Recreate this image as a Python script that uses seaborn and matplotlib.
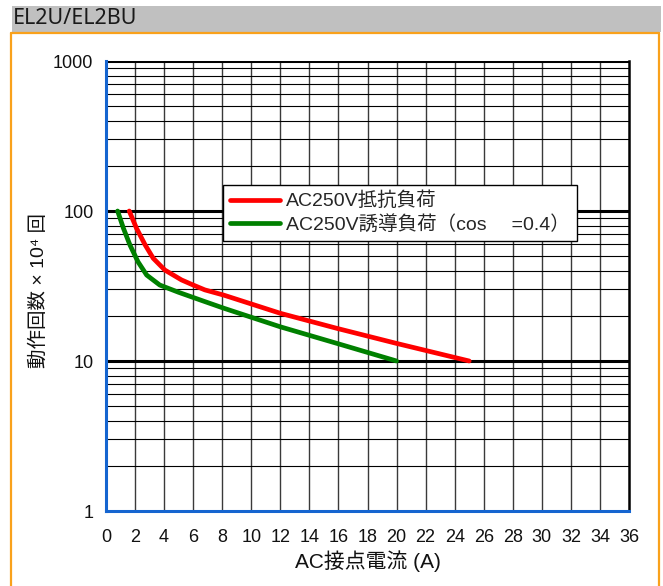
import matplotlib
matplotlib.use("Agg")
import matplotlib.pyplot as plt
from matplotlib.patches import Rectangle
from matplotlib.lines import Line2D
from matplotlib.ticker import FixedLocator, NullFormatter, NullLocator
import pandas as pd
import seaborn as sns

# Curve data: load current (A) vs. operations (x10^4)
resistive_current = [1.6, 2.1, 2.7, 3.25, 4.05, 5.2, 6.0, 6.8, 8.1, 12.0, 15.9, 20.0, 25.0]
resistive_ops = [100, 76.7, 59.3, 48.4, 40.4, 34.7, 32.1, 29.8, 27.5, 20.8, 16.5, 13.1, 10]
inductive_current = [0.8, 1.2, 1.65, 2.2, 2.8, 3.7, 5.0, 6.8, 8.1, 12.0, 15.9, 20.0]
inductive_ops = [100, 76.7, 59.3, 45.9, 37.4, 32.1, 28.7, 24.9, 22.5, 16.9, 13.1, 10]

series_names = ["AC250V抵抗負荷", "AC250V誘導負荷（cos　 =0.4）"]
x_ticks = list(range(0, 37, 2))
y_ticks = [1, 10, 100, 1000]
title = "EL2U/EL2BU"
x_label = "AC接点電流 (A)"
y_label = "動作回数 × 10⁴ 回"

sns.set_theme(style="white")
plt.rcParams["font.family"] = ["Liberation Sans", "Noto Sans CJK JP", "DejaVu Sans"]

df = pd.DataFrame({
    "current": resistive_current + inductive_current,
    "ops": resistive_ops + inductive_ops,
    "series": [series_names[0]] * len(resistive_current)
              + [series_names[1]] * len(inductive_current),
})

fig = plt.figure(figsize=(6.63, 5.86), dpi=100)
W, H = 663, 586
ax = fig.add_axes([106 / W, 1 - 511 / H, (629 - 106) / W, (511 - 61) / H])

# Header bar and orange frame
fig.add_artist(Rectangle((12 / W, 1 - 32 / H), 649 / W, 26 / H,
                         transform=fig.transFigure, facecolor="#c0c0c0",
                         edgecolor="none", zorder=0))
fig.text(13 / W, 1 - 19 / H, title, fontsize=15.5, color="#1a1a1a",
         va="center", ha="left", family=["Noto Sans", "DejaVu Sans"])
frame_c = "#f9a11b"
fig.add_artist(Line2D([11 / W, 659 / W], [1 - 33 / H, 1 - 33 / H],
                      transform=fig.transFigure, color=frame_c, lw=1.6))
fig.add_artist(Line2D([11 / W, 11 / W], [0, 1 - 33 / H],
                      transform=fig.transFigure, color=frame_c, lw=1.6))
fig.add_artist(Line2D([659 / W, 659 / W], [0, 1 - 33 / H],
                      transform=fig.transFigure, color=frame_c, lw=1.6))

ax.set_yscale("log")
ax.set_xlim(0, 36)
ax.set_ylim(1, 1000)

# Grid: vertical every 2 A, horizontal minor 2..9 per decade, heavy decades
for xv in x_ticks[1:-1]:
    ax.axvline(xv, color="#3a3a3a", lw=1.0, zorder=1)
for dec in [1, 10, 100]:
    for m in range(2, 10):
        ax.axhline(dec * m, color="black", lw=0.8, zorder=1)
for yv in [10, 100, 1000]:
    ax.axhline(yv, color="black", lw=2.2, zorder=1)

sns.lineplot(data=df, x="current", y="ops", hue="series", sort=False,
             estimator=None, palette={series_names[0]: "#ff0000",
                                      series_names[1]: "#008000"},
             lw=3.4, ax=ax, zorder=3)
for ln in ax.get_lines():
    ln.set_solid_capstyle("round")
    ln.set_solid_joinstyle("round")

ax.xaxis.set_major_locator(FixedLocator(x_ticks))
ax.yaxis.set_major_locator(FixedLocator(y_ticks))
ax.yaxis.set_minor_locator(NullLocator())
ax.yaxis.set_minor_formatter(NullFormatter())
ax.set_xticklabels([str(v) for v in x_ticks])
ax.set_yticklabels([str(v) for v in y_ticks])

blue = "#1565d0"
for side in ["left", "bottom"]:
    ax.spines[side].set_color(blue)
    ax.spines[side].set_linewidth(2.2)
ax.spines["right"].set_color("black")
ax.spines["right"].set_linewidth(1.8)
ax.spines["top"].set_visible(False)
ax.tick_params(axis="both", which="major", direction="out", length=5,
               width=2, color=blue, labelsize=13, labelcolor="#111111", pad=4)
ax.tick_params(axis="x", pad=8)

ax.set_xlabel(x_label, fontsize=15, color="#111111", labelpad=3)
ax.set_ylabel(y_label, fontsize=14, color="#111111")
ax.yaxis.set_label_coords(-0.112, 0.49)

handles, labels = ax.get_legend_handles_labels()
leg = ax.legend(handles, labels, loc="upper left",
                bbox_to_anchor=(0.2237, 0.7244), borderaxespad=0,
                frameon=True, fancybox=False, fontsize=14,
                handlelength=2.6, handletextpad=0.3, borderpad=0.35,
                labelspacing=0.25)
leg.get_frame().set_edgecolor("black")
leg.get_frame().set_linewidth(1.0)
leg.get_frame().set_alpha(1)
for ln in leg.get_lines():
    ln.set_linewidth(3.4)
    ln.set_solid_capstyle("round")
leg.set_zorder(5)

fig.savefig("out.png", dpi=100)
